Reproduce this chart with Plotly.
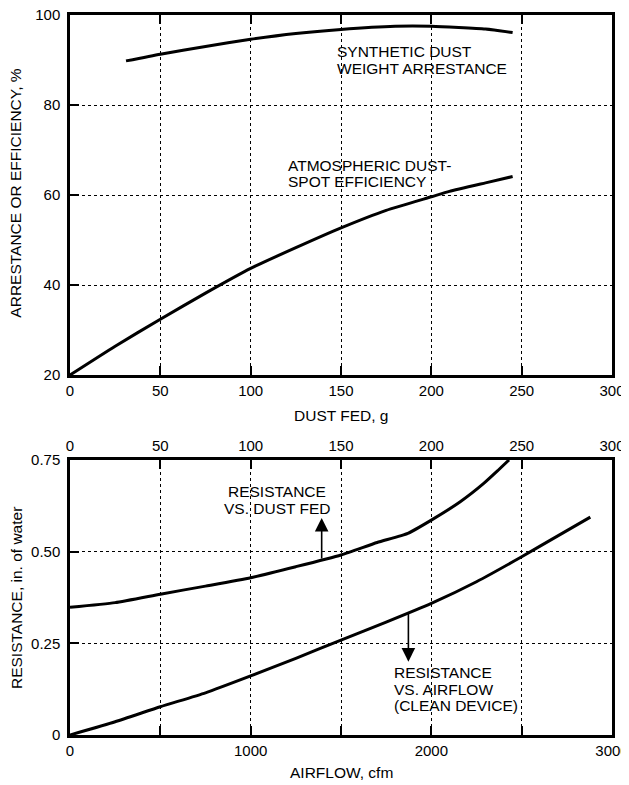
import plotly.graph_objects as go

# ---- Data ----
# Top panel: arrestance / efficiency vs dust fed
syn_dust = [31, 50, 75, 100, 125, 150, 180, 200, 230, 245]
syn_arrest = [89.8, 91.3, 93.0, 94.6, 95.9, 96.8, 97.5, 97.5, 96.9, 96.1]

atm_dust = [0, 25, 50, 75, 100, 125, 150, 175, 200, 210, 230, 245]
atm_eff = [20, 26.4, 32.4, 38.2, 43.7, 48.3, 52.7, 56.6, 59.6, 60.8, 62.7, 64.1]

# Bottom panel: resistance vs dust fed (top axis) and vs airflow (bottom axis)
res_dust = [0, 25, 50, 75, 100, 125, 150, 170, 187, 200, 216, 229, 237, 243]
res_vs_dust = [0.348, 0.361, 0.384, 0.406, 0.429, 0.459, 0.491, 0.525, 0.55,
               0.586, 0.636, 0.686, 0.722, 0.75]

airflow = [0, 250, 500, 750, 1000, 1250, 1500, 1750, 2000, 2250, 2500, 2700, 2880]
res_vs_air = [0, 0.036, 0.077, 0.115, 0.161, 0.209, 0.259, 0.308, 0.359,
              0.418, 0.486, 0.543, 0.594]

dust_ticks = [0, 50, 100, 150, 200, 250, 300]
eff_ticks = [20, 40, 60, 80, 100]
air_ticks = [0, 500, 1000, 1500, 2000, 2500, 3000]
air_ticktext = ["0", "", "1000", "", "2000", "", "3000"]
res_ticks = [0, 0.25, 0.5, 0.75]
res_ticktext = ["0", "0.25", "0.50", "0.75"]

FONT = "Liberation Sans, Arial, Helvetica, sans-serif"
LINE = dict(color="black", width=3, shape="spline", smoothing=0.5)

fig = go.Figure()
fig.add_trace(go.Scatter(x=syn_dust, y=syn_arrest, mode="lines", line=LINE,
                         xaxis="x", yaxis="y"))
fig.add_trace(go.Scatter(x=atm_dust, y=atm_eff, mode="lines", line=LINE,
                         xaxis="x", yaxis="y"))
fig.add_trace(go.Scatter(x=airflow, y=res_vs_air, mode="lines", line=LINE,
                         xaxis="x2", yaxis="y2"))
fig.add_trace(go.Scatter(x=res_dust, y=res_vs_dust, mode="lines", line=LINE,
                         xaxis="x3", yaxis="y2"))

axis_common = dict(showline=True, linecolor="black", linewidth=2.5,
                   ticks="inside", ticklen=9, tickwidth=1.5, tickcolor="black",
                   tickfont=dict(family=FONT, size=15, color="black"),
                   zeroline=False, automargin=False, ticklabeloverflow="allow")
grid = dict(showgrid=True, gridcolor="black", griddash="dot", gridwidth=1)

top_dom = [0.5, 1.0]
bot_dom = [0.0, 0.382]

# The page body adds an 8px margin, so the figure is sized to fit the window.
fig.update_layout(
    width=621, height=777,
    margin=dict(l=62, r=17, t=7, b=50, autoexpand=False),
    paper_bgcolor="white", plot_bgcolor="white",
    showlegend=False,
    font=dict(family=FONT, size=15, color="black"),
    xaxis=dict(domain=[0, 1], anchor="y", range=[0, 300], tickvals=dust_ticks,
               mirror="ticks", **axis_common, **grid),
    yaxis=dict(domain=top_dom, anchor="x", range=[20, 100], tickvals=eff_ticks,
               mirror=True, ticklabelstandoff=4, **axis_common, **grid),
    xaxis2=dict(domain=[0, 1], anchor="y2", range=[0, 3000], tickvals=air_ticks,
                ticktext=air_ticktext, mirror=False, **axis_common, **grid),
    yaxis2=dict(domain=bot_dom, anchor="x2", range=[0, 0.75], tickvals=res_ticks,
                ticktext=res_ticktext, mirror=True, ticklabelstandoff=4,
                **axis_common, **grid),
    xaxis3=dict(overlaying="x2", side="top", anchor="y2", range=[0, 300],
                tickvals=dust_ticks, showgrid=False, **axis_common),
)

AF = dict(family=FONT, size=15.5, color="black")
ann = []

def txt(x, y, s, xref, yref, xanchor="left", angle=0):
    ann.append(dict(x=x, y=y, xref=xref, yref=yref, text=s, showarrow=False,
                    xanchor=xanchor, yanchor="middle", font=AF, textangle=angle))

# Top panel labels
txt(146.7, 91.8, "SYNTHETIC DUST", "x", "y")
txt(146.7, 88.2, "WEIGHT ARRESTANCE", "x", "y")
txt(119.5, 66.5, "ATMOSPHERIC DUST-", "x", "y")
txt(119.5, 62.9, "SPOT EFFICIENCY", "x", "y")

# Bottom panel labels
txt(1146, 0.663, "RESISTANCE", "x2", "y2", xanchor="center")
txt(1146, 0.619, "VS. DUST FED", "x2", "y2", xanchor="center")
txt(1781, 0.170, "RESISTANCE", "x2", "y2")
txt(1781, 0.125, "VS. AIRFLOW", "x2", "y2")
txt(1781, 0.081, "(CLEAN DEVICE)", "x2", "y2")

# Axis titles
txt(0.5, 0.4437, "DUST FED, g", "paper", "paper", xanchor="center")
txt(0.5, -0.052, "AIRFLOW, cfm", "paper", "paper", xanchor="center")
txt(-0.1, 0.753, "ARRESTANCE OR EFFICIENCY, %", "paper", "paper",
    xanchor="center", angle=-90)
txt(-0.1, 0.19, "RESISTANCE, in. of water", "paper", "paper",
    xanchor="center", angle=-90)

# Arrows
ann.append(dict(x=1393, y=0.592, xref="x2", yref="y2", ax=1393, ay=0.477,
                axref="x2", ayref="y2", showarrow=True, arrowhead=2,
                arrowsize=1.7, arrowwidth=1.6, arrowcolor="black", text=""))
ann.append(dict(x=1873, y=0.2, xref="x2", yref="y2", ax=1873, ay=0.336,
                axref="x2", ayref="y2", showarrow=True, arrowhead=2,
                arrowsize=1.7, arrowwidth=1.6, arrowcolor="black", text=""))

fig.update_layout(annotations=ann)
fig.write_html("out.html")
